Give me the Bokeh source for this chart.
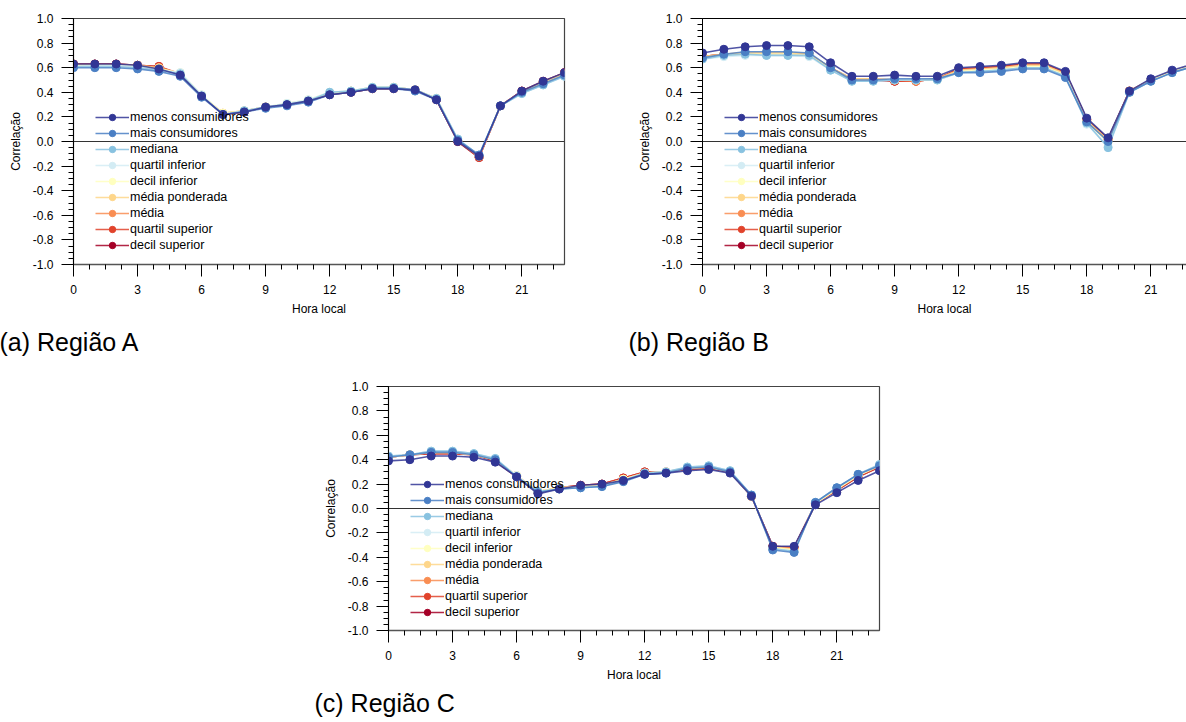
from bokeh.plotting import figure
from bokeh.models import (FixedTicker, PrintfTickFormatter, Span, Legend, Title,
                          LegendItem, LinearAxis, Range1d, Spacer)
from bokeh.layouts import row, column
from bokeh.embed import file_html
from bokeh.resources import INLINE

# ---------------- data ----------------
hours = list(range(24))
series_names = ["menos consumidores", "mais consumidores", "mediana", "quartil inferior",
                "decil inferior", "média ponderada", "média", "quartil superior", "decil superior"]
series_colors = ["#313695", "#4a7fc4", "#88c2e0", "#d3ecf4", "#ffffbf",
                 "#fed68a", "#f98d52", "#e1432b", "#a50026"]

x_tick_values = [0, 3, 6, 9, 12, 15, 18, 21]
y_tick_values = [-1.0, -0.8, -0.6, -0.4, -0.2, 0.0, 0.2, 0.4, 0.6, 0.8, 1.0]

# Região A
menos_A = [0.63, 0.63, 0.63, 0.62, 0.59, 0.54, 0.37, 0.22, 0.24, 0.28, 0.30, 0.33, 0.38, 0.40, 0.43, 0.43, 0.42, 0.34, 0.00, -0.12, 0.29, 0.41, 0.49, 0.56]
mais_A = [0.60, 0.60, 0.60, 0.59, 0.57, 0.53, 0.36, 0.22, 0.24, 0.27, 0.29, 0.32, 0.38, 0.40, 0.43, 0.43, 0.41, 0.34, 0.01, -0.11, 0.29, 0.40, 0.47, 0.54]
mediana_A = [0.61, 0.61, 0.61, 0.60, 0.58, 0.55, 0.37, 0.22, 0.25, 0.28, 0.30, 0.33, 0.40, 0.41, 0.44, 0.44, 0.42, 0.35, 0.02, -0.11, 0.29, 0.39, 0.46, 0.53]
qinf_A = [0.61, 0.62, 0.62, 0.61, 0.58, 0.56, 0.38, 0.22, 0.25, 0.28, 0.31, 0.34, 0.40, 0.41, 0.44, 0.44, 0.42, 0.35, 0.02, -0.11, 0.29, 0.39, 0.46, 0.53]
dinf_A = [0.62, 0.62, 0.62, 0.61, 0.59, 0.56, 0.38, 0.23, 0.25, 0.28, 0.31, 0.34, 0.40, 0.41, 0.44, 0.44, 0.42, 0.35, 0.01, -0.12, 0.29, 0.40, 0.47, 0.54]
mpond_A = [0.62, 0.62, 0.62, 0.62, 0.60, 0.55, 0.37, 0.23, 0.25, 0.28, 0.30, 0.33, 0.39, 0.41, 0.44, 0.44, 0.42, 0.35, 0.01, -0.12, 0.29, 0.40, 0.48, 0.55]
media_A = [0.62, 0.62, 0.62, 0.62, 0.60, 0.55, 0.37, 0.23, 0.25, 0.28, 0.30, 0.33, 0.39, 0.41, 0.43, 0.44, 0.42, 0.35, 0.01, -0.12, 0.29, 0.40, 0.48, 0.55]
qsup_A = [0.63, 0.63, 0.63, 0.62, 0.61, 0.55, 0.37, 0.22, 0.24, 0.28, 0.30, 0.33, 0.39, 0.40, 0.43, 0.43, 0.42, 0.34, 0.00, -0.13, 0.29, 0.41, 0.48, 0.56]
dsup_A = [0.63, 0.63, 0.63, 0.62, 0.61, 0.54, 0.37, 0.22, 0.24, 0.28, 0.30, 0.33, 0.38, 0.40, 0.43, 0.43, 0.42, 0.34, 0.00, -0.13, 0.29, 0.41, 0.49, 0.56]

# Região B
menos_B = [0.72, 0.75, 0.77, 0.78, 0.78, 0.77, 0.64, 0.53, 0.53, 0.54, 0.53, 0.53, 0.60, 0.61, 0.62, 0.64, 0.64, 0.57, 0.19, 0.03, 0.41, 0.51, 0.58, 0.63]
mais_B = [0.68, 0.71, 0.73, 0.73, 0.73, 0.72, 0.60, 0.50, 0.50, 0.51, 0.51, 0.51, 0.56, 0.56, 0.57, 0.59, 0.59, 0.52, 0.16, 0.00, 0.40, 0.49, 0.56, 0.61]
mediana_B = [0.67, 0.70, 0.71, 0.70, 0.70, 0.70, 0.58, 0.49, 0.49, 0.50, 0.50, 0.50, 0.56, 0.57, 0.58, 0.60, 0.60, 0.53, 0.15, -0.05, 0.40, 0.49, 0.56, 0.61]
qinf_B = [0.67, 0.69, 0.70, 0.70, 0.70, 0.69, 0.58, 0.49, 0.49, 0.50, 0.50, 0.50, 0.56, 0.57, 0.58, 0.60, 0.60, 0.53, 0.14, -0.04, 0.40, 0.49, 0.56, 0.61]
dinf_B = [0.68, 0.70, 0.71, 0.71, 0.71, 0.70, 0.59, 0.50, 0.50, 0.50, 0.50, 0.50, 0.57, 0.58, 0.59, 0.61, 0.61, 0.54, 0.16, -0.01, 0.40, 0.50, 0.57, 0.62]
mpond_B = [0.69, 0.71, 0.72, 0.72, 0.72, 0.71, 0.60, 0.51, 0.51, 0.50, 0.50, 0.51, 0.58, 0.59, 0.60, 0.62, 0.62, 0.55, 0.17, 0.01, 0.41, 0.50, 0.57, 0.62]
media_B = [0.69, 0.71, 0.72, 0.72, 0.72, 0.71, 0.60, 0.51, 0.51, 0.50, 0.49, 0.51, 0.58, 0.59, 0.60, 0.62, 0.62, 0.55, 0.17, 0.01, 0.41, 0.50, 0.57, 0.62]
qsup_B = [0.69, 0.71, 0.71, 0.71, 0.71, 0.71, 0.60, 0.50, 0.50, 0.49, 0.49, 0.51, 0.59, 0.60, 0.61, 0.63, 0.63, 0.56, 0.18, 0.02, 0.41, 0.50, 0.57, 0.62]
dsup_B = [0.69, 0.71, 0.71, 0.71, 0.71, 0.70, 0.60, 0.50, 0.50, 0.49, 0.49, 0.51, 0.59, 0.60, 0.61, 0.63, 0.63, 0.56, 0.18, 0.02, 0.41, 0.50, 0.57, 0.62]

# Região C
menos_C = [0.39, 0.40, 0.43, 0.43, 0.42, 0.38, 0.26, 0.12, 0.16, 0.19, 0.20, 0.23, 0.28, 0.29, 0.31, 0.32, 0.29, 0.10, -0.31, -0.31, 0.03, 0.13, 0.23, 0.31]
mais_C = [0.42, 0.44, 0.46, 0.46, 0.44, 0.40, 0.26, 0.13, 0.16, 0.17, 0.18, 0.22, 0.28, 0.29, 0.33, 0.34, 0.30, 0.11, -0.34, -0.36, 0.05, 0.17, 0.28, 0.35]
mediana_C = [0.43, 0.44, 0.47, 0.47, 0.45, 0.41, 0.26, 0.14, 0.16, 0.17, 0.18, 0.23, 0.29, 0.30, 0.34, 0.35, 0.31, 0.11, -0.33, -0.35, 0.05, 0.17, 0.28, 0.36]
qinf_C = [0.43, 0.44, 0.47, 0.47, 0.45, 0.41, 0.27, 0.14, 0.16, 0.17, 0.18, 0.23, 0.29, 0.30, 0.34, 0.35, 0.31, 0.11, -0.33, -0.35, 0.05, 0.17, 0.28, 0.36]
dinf_C = [0.42, 0.44, 0.46, 0.46, 0.44, 0.40, 0.27, 0.14, 0.17, 0.18, 0.19, 0.24, 0.29, 0.30, 0.33, 0.34, 0.30, 0.10, -0.32, -0.34, 0.04, 0.16, 0.27, 0.35]
mpond_C = [0.42, 0.44, 0.46, 0.46, 0.44, 0.40, 0.27, 0.14, 0.17, 0.18, 0.19, 0.24, 0.29, 0.30, 0.33, 0.34, 0.30, 0.10, -0.32, -0.33, 0.04, 0.16, 0.27, 0.35]
media_C = [0.42, 0.44, 0.46, 0.46, 0.44, 0.40, 0.27, 0.14, 0.17, 0.18, 0.19, 0.24, 0.29, 0.30, 0.33, 0.34, 0.30, 0.10, -0.32, -0.33, 0.04, 0.16, 0.27, 0.35]
qsup_C = [0.42, 0.44, 0.45, 0.45, 0.44, 0.39, 0.26, 0.13, 0.17, 0.19, 0.20, 0.25, 0.30, 0.30, 0.32, 0.33, 0.30, 0.10, -0.31, -0.32, 0.04, 0.15, 0.26, 0.34]
dsup_C = [0.42, 0.44, 0.45, 0.45, 0.44, 0.39, 0.26, 0.13, 0.17, 0.19, 0.20, 0.25, 0.30, 0.30, 0.32, 0.33, 0.30, 0.10, -0.31, -0.32, 0.04, 0.15, 0.26, 0.34]

data_A = [menos_A, mais_A, mediana_A, qinf_A, dinf_A, mpond_A, media_A, qsup_A, dsup_A]
data_B = [menos_B, mais_B, mediana_B, qinf_B, dinf_B, mpond_B, media_B, qsup_B, dsup_B]
data_C = [menos_C, mais_C, mediana_C, qinf_C, dinf_C, mpond_C, media_C, qsup_C, dsup_C]

FONT = "Liberation Sans"
PX_PER_HOUR = 491 / 23.0


def make_panel(series, width, height, bl, br, bt, bb, xmax, caption, cap_off, cap_standoff,
               cap_valign, legend_loc, full_frame=True):
    p = figure(width=width, height=height, x_range=Range1d(0, xmax), y_range=Range1d(-1, 1),
               output_backend="svg", toolbar_location=None, title=None,
               min_border_left=bl, min_border_right=br, min_border_top=bt, min_border_bottom=bb)
    p.xgrid.visible = False
    p.ygrid.visible = False
    p.background_fill_color = "white"
    p.border_fill_color = "white"

    xa = p.below[0]
    ya = p.left[0]
    xa.ticker = FixedTicker(ticks=x_tick_values, minor_ticks=[0.75 * k for k in range(32)])
    ya.ticker = FixedTicker(ticks=y_tick_values, minor_ticks=[round(-1 + 0.05 * k, 2) for k in range(41)])
    ya.formatter = PrintfTickFormatter(format="%.1f")
    for ax in (xa, ya):
        ax.major_tick_in = 0
        ax.minor_tick_in = 0
        ax.major_tick_out = 12
        ax.minor_tick_out = 5
        ax.major_tick_line_color = "black"
        ax.minor_tick_line_color = "black"
        ax.axis_line_color = "black"
        ax.axis_line_width = 1
        ax.major_label_text_font = FONT
        ax.major_label_text_font_size = "12px"
        ax.major_label_text_color = "black"
        ax.major_label_standoff = 8
        ax.axis_label_text_font = FONT
        ax.axis_label_text_font_size = "12px"
        ax.axis_label_text_font_style = "normal"
        ax.axis_label_text_color = "black"
    xa.axis_line_color = "#555555"
    xa.axis_line_width = 1.5
    ya.axis_label = "Correlação"
    ya.axis_label_standoff = 7
    xa.axis_label = "Hora local"
    xa.axis_label_standoff = 5

    if full_frame:
        p.outline_line_color = "#444444"
        p.outline_line_width = 1.2
    else:
        p.outline_line_color = None
        top = LinearAxis(ticker=FixedTicker(ticks=[], minor_ticks=[]),
                         major_label_text_font_size="0px", major_tick_out=0, minor_tick_out=0,
                         major_label_standoff=0, axis_line_color="black", axis_line_width=1)
        p.add_layout(top, "above")

    p.add_layout(Span(location=0, dimension="width", line_color="#333333",
                      line_width=1, level="underlay"))

    rends = {}
    for i in reversed(range(len(series))):
        c = series_colors[i]
        lr = p.line(hours, series[i], line_color=c, line_width=1.6, line_alpha=0.85)
        sr = p.scatter(hours, series[i], size=8, fill_color=c, line_color=c)
        rends[i] = (lr, sr)
    items = [LegendItem(label=series_names[i], renderers=list(rends[i])) for i in range(len(series))]
    leg = Legend(items=items, location=legend_loc, padding=0, margin=0, spacing=0,
                 glyph_width=34, glyph_height=16, label_height=16, label_standoff=1,
                 background_fill_alpha=0, border_line_alpha=0,
                 label_text_font=FONT, label_text_font_size="12.5px",
                 label_text_color="black")
    p.add_layout(leg)

    p.add_layout(Title(text=caption, align="left", offset=cap_off, standoff=cap_standoff,
                       vertical_align=cap_valign,
                       text_font=FONT, text_font_size="25px", text_font_style="normal",
                       text_color="black"), "below")
    return p


pA = make_panel(data_A, 610, 365, 73, 46, 18, 101, 23, "(a) Região A", -74, 15, "bottom", (22, 11))
pB = make_panel(data_B, 576, 365, 92, 0, 18, 101, 484 / PX_PER_HOUR, "(b) Região B", -74, 15,
                "bottom", (22, 11), full_frame=False)
pC = make_panel(data_C, 591, 357, 80, 20, 21, 92, 23, "(c) Região C", -74, 8, "top", (22, 10))

layout = column(row(pA, pB), row(Spacer(width=308, height=357), pC))

open("out.html", "w").write(file_html(layout, INLINE))
